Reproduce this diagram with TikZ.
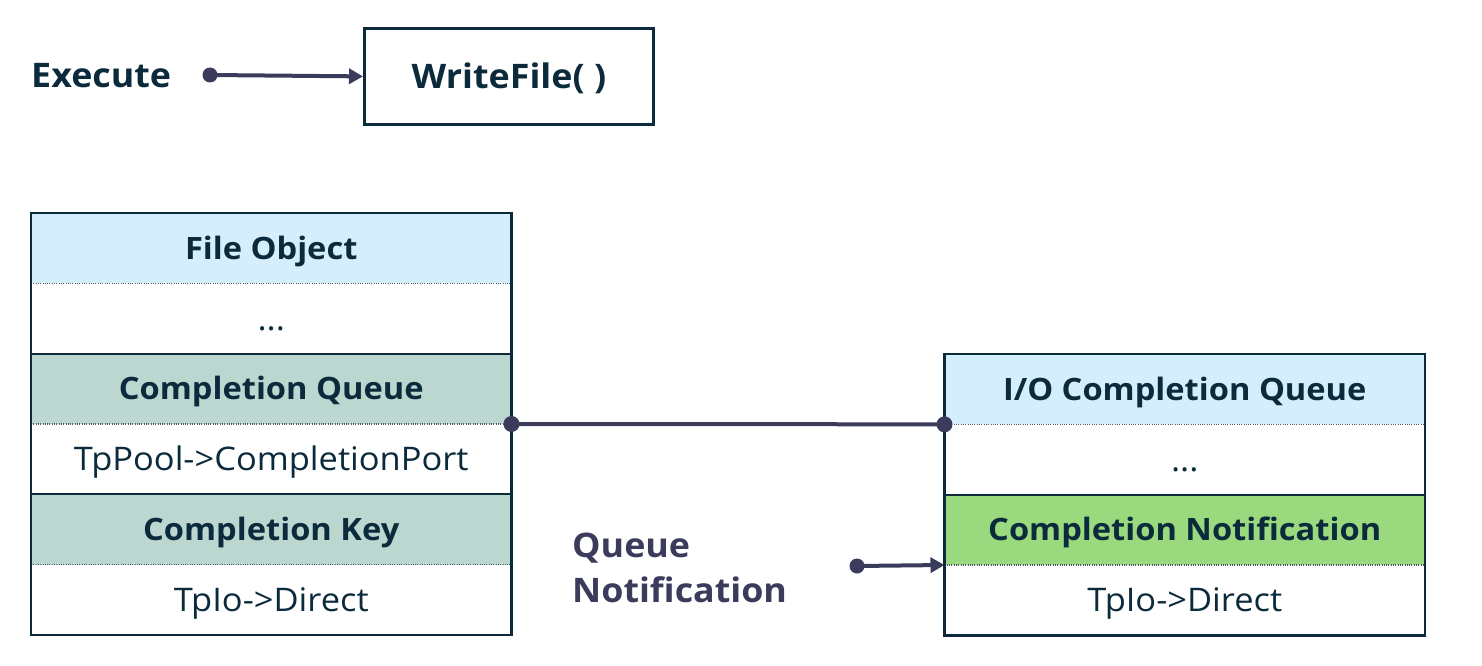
\documentclass[tikz,border=0pt]{standalone}
\usepackage{fontspec}
\setmainfont{Open Sans}[FakeStretch=1.06]
\usetikzlibrary{arrows.meta}
\definecolor{ink}{HTML}{0B2B3C}
\definecolor{conn}{HTML}{3B3B5C}
\definecolor{hdrblue}{HTML}{D4EEFC}
\definecolor{sage}{HTML}{BCD7D0}
\definecolor{lgreen}{HTML}{9AD97E}
\definecolor{dotgray}{HTML}{4A5A66}
\begin{document}
\begin{tikzpicture}[x=1pt,y=-1pt,
  row/.style={minimum width=480.5pt, minimum height=70.33pt, inner sep=0pt, outer sep=0pt,
    text height=23.2pt, text depth=0pt,
    anchor=north west, text=ink, font=\fontsize{32.5}{38}\selectfont},
  boldrow/.style={row, text height=22pt, font=\bfseries\fontsize{30.8}{36}\selectfont},
  sepdot/.style={draw=dotgray, line width=1.1pt, dash pattern=on 1pt off 1.3pt},
  sepsolid/.style={draw=ink, line width=2pt},
  frame/.style={draw=ink, line width=2.4pt},
  conline/.style={draw=conn, line width=4pt},
  arrowline/.style={conline, -{Triangle[length=14pt,width=15pt]}},
  dotend/.style={fill=conn},
  label/.style={font=\bfseries\fontsize{33.8}{40}\selectfont, inner sep=0pt}]
\useasboundingbox (0,0) rectangle (1482,666);

% top
\node[label, text=ink, anchor=base west] (exec) at (31,87.5) {Execute};
\node[draw=ink, line width=2.8pt, minimum width=289pt, minimum height=96pt, inner sep=0pt,
      text height=24pt, text depth=0pt,
      anchor=north west, text=ink, font=\bfseries\fontsize{33.8}{40}\selectfont] (wf) at (363,27) {WriteFile( )};
\coordinate (exdot) at (210,75);
\draw[arrowline] (exdot) -- (wf.west);
\fill[dotend] (exdot) circle (7.5);

% left table
\node[boldrow, fill=hdrblue] (l1) at (31,213) {File Object};
\node[row] (l2) at (l1.south west) {...};
\node[boldrow, fill=sage] (l3) at (l2.south west) {Completion Queue};
\node[row] (l4) at (l3.south west) {TpPool->CompletionPort};
\node[boldrow, fill=sage] (l5) at (l4.south west) {Completion Key};
\node[row] (l6) at (l5.south west) {TpIo->Direct};
\draw[sepdot] (l1.south west) -- (l1.south east);
\draw[sepsolid] (l2.south west) -- (l2.south east);
\draw[sepdot] (l3.south west) -- (l3.south east);
\draw[sepsolid] (l4.south west) -- (l4.south east);
\draw[sepdot] (l5.south west) -- (l5.south east);
\draw[frame] (l1.north west) rectangle (l6.south east);

% right table
\node[boldrow, fill=hdrblue] (r1) at (944.5,354) {I/O Completion Queue};
\node[row] (r2) at (r1.south west) {...};
\node[boldrow, fill=lgreen] (r3) at (r2.south west) {Completion Notification};
\node[row] (r4) at (r3.south west) {TpIo->Direct};
\draw[sepdot] (r1.south west) -- (r1.south east);
\draw[sepsolid] (r2.south west) -- (r2.south east);
\draw[sepdot] (r3.south west) -- (r3.south east);
\draw[frame] (r1.north west) rectangle (r4.south east);

% connector
\draw[conline] (l3.south east) -- (r1.south west);
\fill[dotend] (l3.south east) circle (8);
\fill[dotend] (r1.south west) circle (8);

% queue notification
\node[label, text=conn, anchor=base west] (qn1) at (572,557) {Queue};
\node[label, text=conn, anchor=base west] (qn2) at (572,602) {Notification};
\coordinate (qdot) at (857,566);
\draw[arrowline] (qdot) -- (r3.south west);
\fill[dotend] (qdot) circle (7.5);
\end{tikzpicture}
\end{document}
